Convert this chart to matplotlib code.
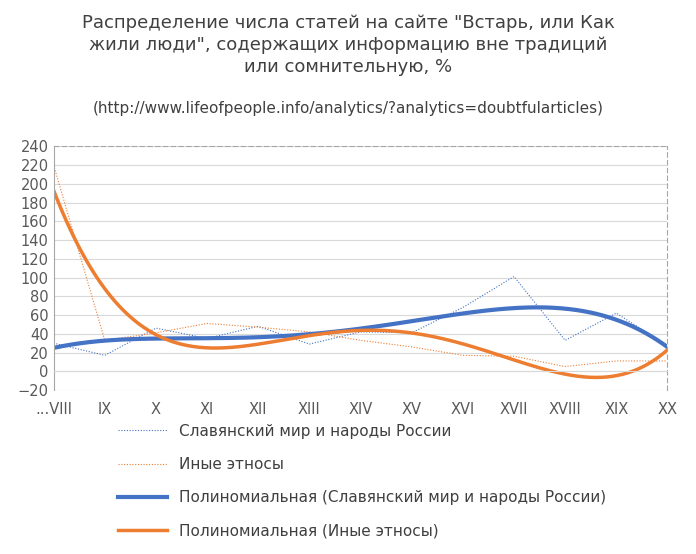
import numpy as np
import matplotlib
matplotlib.use("Agg")
import matplotlib.pyplot as plt

centuries = ["...VIII","IX","X","XI","XII","XIII","XIV","XV","XVI","XVII","XVIII","XIX","XX"]
slavic = [30,17,46,35,48,29,42,41,68,101,33,62,27]
other = [220,33,41,51,47,42,33,26,17,16,5,11,11]
yticks = list(range(-20, 241, 20))

fig = plt.figure(figsize=(6.96,5.54), dpi=100)
ax = fig.add_axes([0.077, 0.296, 0.882, 0.44])
x = np.arange(len(centuries))
blue = "#4472C4"; orange = "#ED7D31"
ax.plot(x, slavic, color=blue, lw=0.8, ls=(0,(1,1.5)), label="Славянский мир и народы России")
ax.plot(x, other, color=orange, lw=0.8, ls=(0,(1,1.5)), label="Иные этносы")
xs = np.linspace(0, len(x)-1, 300)
pb = np.polyfit(x, slavic, 4)
po = np.polyfit(x, other, 4)
ax.plot(xs, np.polyval(pb, xs), color=blue, lw=3, label="Полиномиальная (Славянский мир и народы России)")
ax.plot(xs, np.polyval(po, xs), color=orange, lw=2.5, label="Полиномиальная (Иные этносы)")
ax.set_xlim(0, len(x)-1)
ax.set_ylim(-20, 240)
ax.set_yticks(yticks)
ax.set_xticks(x)
ax.set_xticklabels(centuries)
ax.grid(axis="y", color="#d9d9d9", lw=0.8)
ax.set_axisbelow(True)
for s in ["top","right"]:
    ax.spines[s].set_linestyle((0,(4,3)))
    ax.spines[s].set_color("#a6a6a6")
ax.spines["left"].set_color("#a6a6a6")
ax.spines["bottom"].set_position(("data",0))
ax.spines["bottom"].set_color("#d9d9d9")
ax.tick_params(axis="both", length=0, labelsize=10.5, colors="#595959")
ax.tick_params(axis="x", pad=22)
fig.text(0.5, 0.975, "Распределение числа статей на сайте \"Встарь, или Как\nжили люди\", содержащих информацию вне традиций\nили сомнительную, %",
         ha="center", va="top", fontsize=13, color="#404040", linespacing=1.3)
fig.text(0.5, 0.805, "(http://www.lifeofpeople.info/analytics/?analytics=doubtfularticles)",
         ha="center", va="center", fontsize=11, color="#404040")
fig.legend(loc="upper left", bbox_to_anchor=(0.15, 0.26), frameon=False, fontsize=11,
           labelspacing=1.2, handlelength=3.2, labelcolor="#404040")
fig.savefig("out.png")
